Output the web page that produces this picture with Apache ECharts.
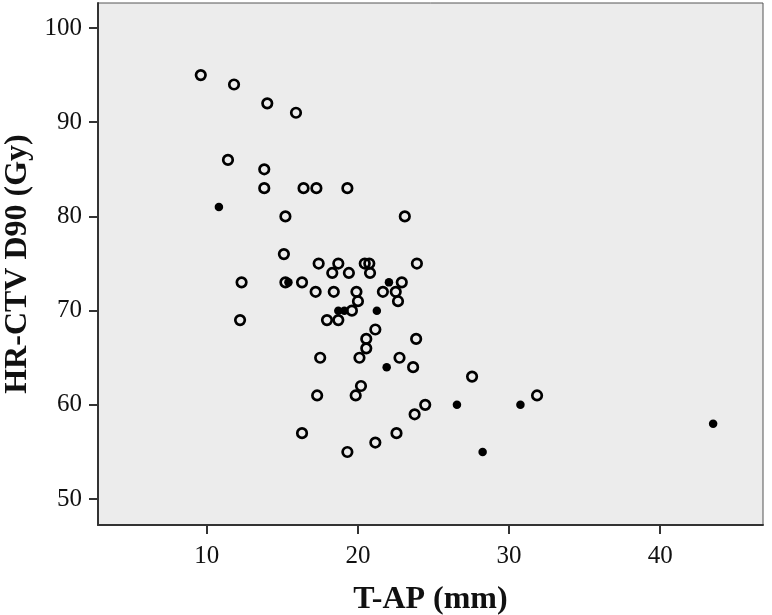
<!DOCTYPE html>
<html>
<head>
<meta charset="utf-8">
<script src="https://cdn.jsdelivr.net/npm/echarts@6/dist/echarts.min.js"></script>
<style>
html,body{margin:0;padding:0;background:#fff;}
#chart{width:772px;height:615px;}
</style>
</head>
<body>
<div id="chart"></div>
<script>
// T-AP (mm), HR-CTV D90 (Gy)
const openX = [9.6,11.8,14.0,15.9,11.4,13.8,13.8,16.4,17.25,19.3,15.2,23.1,15.1,17.4,18.7,20.45,20.75,23.9,18.3,19.4,20.8,12.3,15.2,16.3,22.9,17.2,18.4,19.9,21.65,22.5,20.0,22.65,19.6,12.2,17.95,18.7,21.15,20.55,23.85,20.55,17.5,20.1,22.75,23.65,27.55,20.2,19.85,17.3,31.85,24.45,23.75,16.3,22.55,21.15,19.3];
const openY = [95,94,92,91,86,85,83,83,83,83,80,80,76,75,75,75,75,75,74,74,74,73,73,73,73,72,72,72,72,72,71,71,70,69,69,69,68,67,67,66,65,65,65,64,63,62,61,61,61,60,59,57,57,56,55];
const filledX = [10.8,15.4,22.05,18.7,19.1,21.25,21.9,26.55,30.75,28.25,43.5];
const filledY = [81,73,73,70,70,70,64,60,60,55,58];
const xTicks = [10,20,30,40];
const yTicks = [50,60,70,80,90,100];

const pairs = (xs, ys) => xs.map((x, i) => [x, ys[i]]);
const font = '"Liberation Serif","DejaVu Serif",serif';

const chart = echarts.init(document.getElementById('chart'));
chart.setOption({
  animation: false,
  backgroundColor: '#ffffff',
  grid: {
    left: 98, right: 9, top: 3, bottom: 90,
    containLabel: false, outerBoundsMode: 'none',
    show: true, backgroundColor: '#ececec', borderColor: '#555', borderWidth: 1
  },
  xAxis: {
    type: 'value', min: 2.8, max: 46.8,
    name: 'T-AP (mm)', nameLocation: 'middle', nameGap: 59,
    nameTextStyle: { fontFamily: font, fontWeight: 'bold', fontSize: 32, color: '#111' },
    axisLine: { show: true, lineStyle: { color: '#333', width: 2 } },
    axisTick: { show: true, customValues: xTicks, length: 9, lineStyle: { color: '#333', width: 2 } },
    axisLabel: { customValues: xTicks, margin: 19, fontFamily: font, fontSize: 25, color: '#111' },
    splitLine: { show: false }
  },
  yAxis: {
    type: 'value', min: 47.25, max: 102.65,
    name: 'HR-CTV D90 (Gy)', nameLocation: 'middle', nameGap: 58,
    nameTextStyle: { fontFamily: font, fontWeight: 'bold', fontSize: 32, color: '#111' },
    axisLine: { show: true, lineStyle: { color: '#333', width: 2 } },
    axisTick: { show: true, customValues: yTicks, length: 9, lineStyle: { color: '#333', width: 2 } },
    axisLabel: { customValues: yTicks, margin: 16, fontFamily: font, fontSize: 25, color: '#111' },
    splitLine: { show: false }
  },
  series: [
    {
      type: 'scatter', data: pairs(openX, openY), symbol: 'circle', symbolSize: 9.5,
      itemStyle: { color: 'rgba(0,0,0,0)', borderColor: '#000', borderWidth: 2.7, opacity: 1 }
    },
    {
      type: 'scatter', data: pairs(filledX, filledY), symbol: 'circle', symbolSize: 8.5,
      itemStyle: { color: '#000', opacity: 1 }
    }
  ]
});
</script>
</body>
</html>
